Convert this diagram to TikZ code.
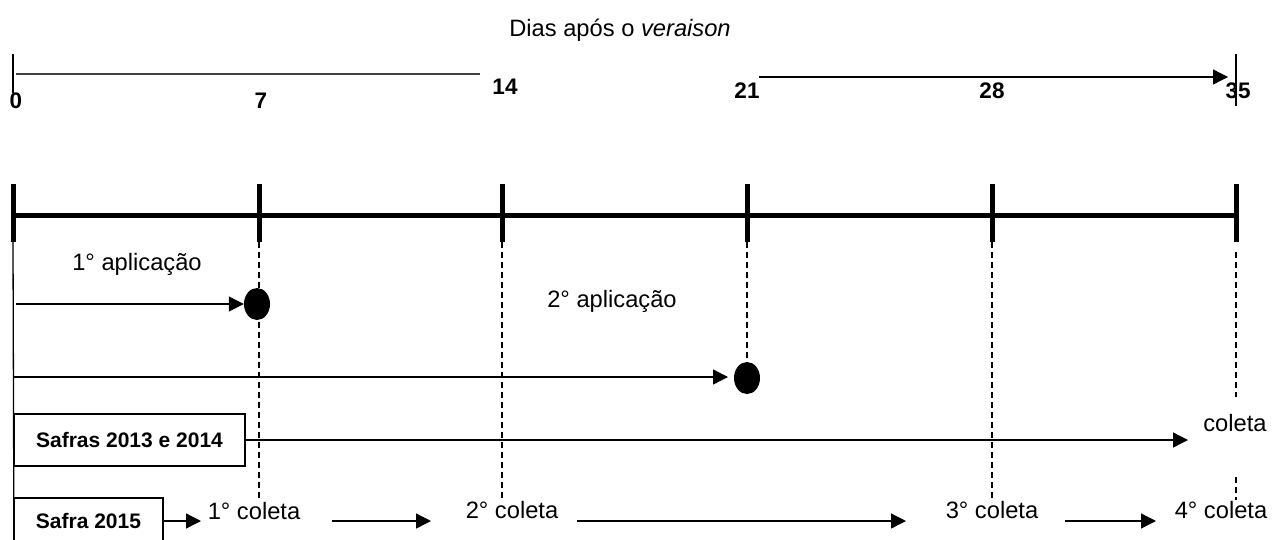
\documentclass[tikz,border=0pt]{standalone}
\usepackage{fontspec}
\setmainfont{Liberation Sans}
\usetikzlibrary{arrows.meta,shapes.geometric}
\begin{document}
\begin{tikzpicture}[x=1pt,y=-1pt,
  txt/.style={font=\fontsize{23.7}{28}\selectfont, inner sep=0pt, anchor=base},
  num/.style={font=\bfseries\fontsize{22.5}{26}\selectfont, inner sep=0pt, anchor=base},
  axisline/.style={line width=5pt},
  thinline/.style={line width=1.3pt},
  arr/.style={line width=1.3pt, -{Triangle[length=15pt,width=15pt]}},
  guide/.style={line width=1.3pt, dash pattern=on 6pt off 4pt},
  dot/.style={ellipse, fill=black, minimum width=26pt, minimum height=32pt, inner sep=0pt},
  safrabox/.style={draw, line width=1.3pt, inner sep=0pt, font=\bfseries\fontsize{21}{25}\selectfont}
]
\useasboundingbox (0,0) rectangle (1272,539);
\clip (0,0) rectangle (1272,539);

% title
\node[txt] (title) at (620,36) {Dias após o \textit{veraison}};

% top scale
\coordinate (s0top) at (13,54);
\coordinate (s0bot) at (13,93);
\coordinate (s5top) at (1236,54);
\coordinate (s5bot) at (1236,106);
\draw[thinline] (s0top) -- (s0bot);
\draw[thinline] (s5top) -- (s5bot);
\coordinate (l1a) at (16,74);
\coordinate (l1b) at (480,74);
\draw[thinline, draw=black!75] (l1a) -- (l1b);
\coordinate (l2a) at (759,77);
\coordinate (l2b) at (1228,77);
\draw[arr] (l2a) -- (l2b);

\node[num] (n0) at (16,108) {0};
\node[num] (n7) at (261,108) {7};
\node[num] (n14) at (505,94) {14};
\node[num] (n21) at (747,98) {21};
\node[num] (n28) at (992,98) {28};
\node[num] (n35) at (1238,98) {35};

% main timeline
\coordinate (t0) at (13,215);
\coordinate (t5) at (1236,215);
\draw[axisline] (t0) -- (t5);
\foreach \x/\n in {13/0,259/1,502/2,747/3,992/4,1236/5}{
  \coordinate (tk\n a) at (\x,184);
  \coordinate (tk\n b) at (\x,242);
  \draw[axisline] (tk\n a) -- (tk\n b);
}

% left thin vertical
\coordinate (lv) at (14,560);
\draw[thinline] (tk0b) -- (lv);

% dashed guides
\coordinate (g1) at (259,500);
\coordinate (g2) at (502,500);
\coordinate (g4) at (992,502);
\draw[guide] (tk1b) -- (g1);
\draw[guide] (tk2b) -- (g2);
\draw[guide] (tk4b) -- (g4);
\node[dot] (dot2) at (747,378) {};
\draw[guide] (tk3b) -- (dot2.north);
\coordinate (g5a) at (1236,252);
\coordinate (g5b) at (1236,397);
\coordinate (g5c) at (1236,477);
\coordinate (g5d) at (1236,500);
\draw[guide] (g5a) -- (g5b);
\draw[guide] (g5c) -- (g5d);

% applications
\node[dot] (dot1) at (257,304) {};
\node[txt] (ap1) at (137,270) {1° aplicação};
\node[txt] (ap2) at (612,307) {2° aplicação};
\coordinate (a1s) at (16,304);
\draw[arr] (a1s) -- (dot1.west);
\coordinate (a2s) at (13,377);
\coordinate (a2e) at (728,377);
\draw[arr] (a2s) -- (a2e);

% Safras 2013 e 2014
\node[safrabox, minimum width=231pt, minimum height=52pt] (box1) at (129.5,440) {Safras 2013 e 2014};
\coordinate (c1e) at (1188,440);
\draw[arr] (box1.east) -- (c1e);
\node[txt] (col) at (1235,431) {coleta};

% Safra 2015
\node[safrabox, minimum width=149pt, minimum height=46pt] (box2) at (88.5,521) {Safra 2015};
\coordinate (b2e) at (201,521);
\draw[arr] (box2.east) -- (b2e);
\node[txt] (c1) at (254,519) {1° coleta};
\node[txt] (c2) at (512,518) {2° coleta};
\node[txt] (c3) at (992,518) {3° coleta};
\node[txt] (c4) at (1221,518) {4° coleta};
\coordinate (r2a) at (332,521);
\coordinate (r2b) at (431,521);
\coordinate (r3a) at (577,521);
\coordinate (r3b) at (906,521);
\coordinate (r4a) at (1065,521);
\coordinate (r4b) at (1156,521);
\draw[arr] (r2a) -- (r2b);
\draw[arr] (r3a) -- (r3b);
\draw[arr] (r4a) -- (r4b);
\end{tikzpicture}
\end{document}
